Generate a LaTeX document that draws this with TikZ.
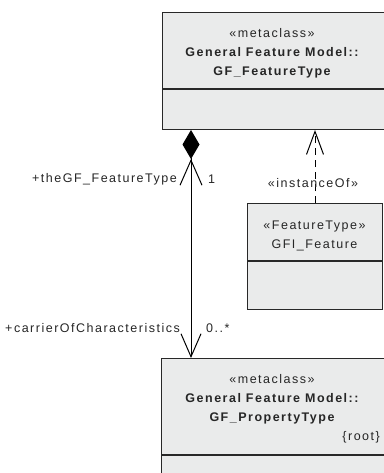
\documentclass[tikz,border=0pt]{standalone}
\usepackage{fontspec}
\setmainfont{Liberation Sans}[LetterSpace=12]
\usetikzlibrary{positioning,arrows.meta}

\definecolor{umlfill}{RGB}{234,235,235}
\definecolor{umlline}{RGB}{40,40,40}

\tikzset{
  classbox/.style={draw=umlline, fill=umlfill, line width=1pt, inner sep=0pt, anchor=north west},
  stereo/.style={font=\fontsize{12.5}{19.5}\selectfont, text=black!85, align=center, inner sep=0pt},
  cname/.style={font=\fontsize{12.5}{19.5}\selectfont\bfseries, text=black!85, align=center, inner sep=0pt},
  rolelabel/.style={font=\fontsize{12.5}{15}\selectfont, text=black!85, inner sep=0pt},
  assoc/.style={draw=black, line width=1pt},
}

\begin{document}
\begin{tikzpicture}[x=1pt,y=-1pt]

  \useasboundingbox (0,0) rectangle (383,473);

  % GF_FeatureType
  \node[classbox, minimum width=224, minimum height=76] (ftypeHead) at (162,12) {};
  \node[classbox, minimum width=224, minimum height=40] (ftypeBody) at (ftypeHead.south west) {};
  \node[stereo] (ftypeSt) at (272,33) {«metaclass»};
  \node[cname] (ftypeName) at (272,63) {General Feature Model::\\GF\_FeatureType};

  % GFI_Feature
  \node[classbox, minimum width=135, minimum height=57] (gfiHead) at (247,203) {};
  \node[classbox, minimum width=135, minimum height=48] (gfiBody) at (gfiHead.south west) {};
  \node[stereo] (gfiName) at (314.5,236) {«FeatureType»\\GFI\_Feature};

  % GF_PropertyType
  \node[classbox, minimum width=224, minimum height=96] (propHead) at (161,358) {};
  \node[classbox, minimum width=224, minimum height=40] (propBody) at (propHead.south west) {};
  \node[stereo] (propSt) at (272,379) {«metaclass»};
  \node[cname] (propName) at (272,409) {General Feature Model::\\GF\_PropertyType};
  \node[stereo, anchor=east] (propRoot) at (380,437) {\{root\}};

  % connectors
  \coordinate (compX) at (191,0);
  \draw[assoc, {Diamond[fill=black,length=29pt,width=17pt] Straight Barb[length=25pt,width=22pt]}-{Straight Barb[length=23pt,width=20pt]}]
    (ftypeBody.south -| compX) -- (propHead.north -| compX);
  \draw[assoc, dash pattern=on 7pt off 5pt, -{Straight Barb[length=23pt,width=17pt]}]
    (gfiHead.north) -- (gfiHead.north |- ftypeBody.south);

  % labels
  \node[rolelabel, anchor=east] (roleTop) at (177,179) {+theGF\_FeatureType};
  \node[rolelabel] (multTop) at (211.5,179) {1};
  \node[rolelabel] (instOf) at (313,183) {«instanceOf»};
  \node[rolelabel, anchor=east] (roleBot) at (180,328) {+carrierOfCharacteristics};
  \node[rolelabel, anchor=west] (multBot) at (206,328) {0..*};

\end{tikzpicture}
\end{document}
